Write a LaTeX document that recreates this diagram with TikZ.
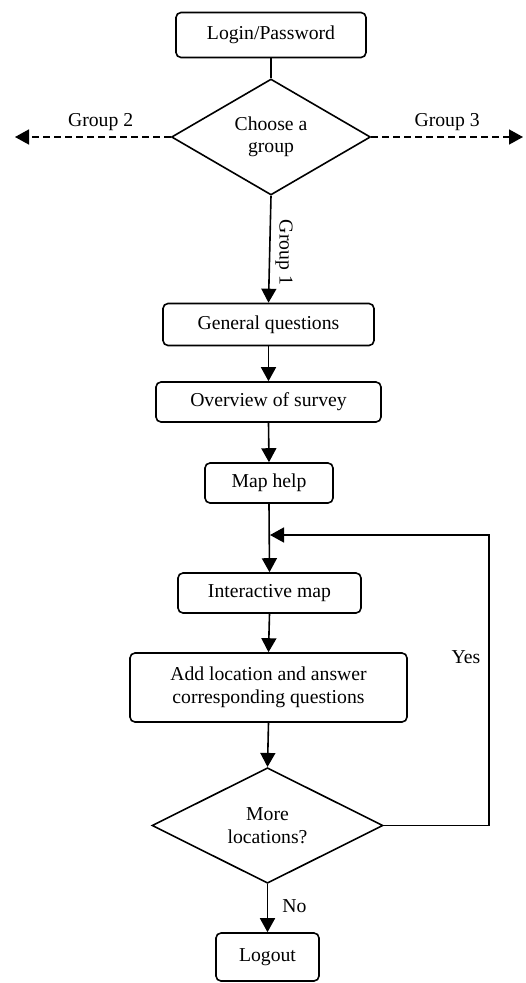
\documentclass[tikz,border=0pt]{standalone}
\usepackage{fontspec}
\setmainfont{Liberation Serif}
\usetikzlibrary{shapes.geometric,arrows.meta}
\tikzset{
  box/.style={draw, line width=1.6pt, rounded corners=5pt, inner sep=0pt, align=center},
  dec/.style={draw, line width=1.6pt, shape=diamond, inner sep=0pt, align=center},
  flow/.style={line width=1.6pt},
  arr/.style={flow, -{Triangle[length=14pt,width=15pt]}},
  darr/.style={line width=1.6pt, dash pattern=on 7pt off 4pt, -{Triangle[length=14pt,width=15pt]}},
  lbl/.style={inner sep=0pt}
}
\begin{document}
\begin{tikzpicture}[x=1pt,y=-1pt,font=\fontsize{19.7}{22.5}\selectfont]
\useasboundingbox (0,0) rectangle (526,983);
\node[box, minimum width=190pt, minimum height=45pt] (login) at (271,35) {Login/Password};
\node[dec, minimum width=199pt, minimum height=116pt] (d1) at (271,137) {Choose a\\group};
\node[box, minimum width=211pt, minimum height=42pt] (gen) at (268.5,324.5) {General questions};
\node[box, minimum width=225pt, minimum height=40pt] (over) at (268.5,402) {Overview of survey};
\node[box, minimum width=128pt, minimum height=40pt] (help) at (269,483) {Map help};
\node[box, minimum width=183pt, minimum height=40pt] (imap) at (269.5,593) {Interactive map};
\node[box, minimum width=277pt, minimum height=69pt] (add) at (268.5,687.5) {Add location and answer\\corresponding questions};
\node[dec, minimum width=231pt, minimum height=115pt] (d2) at (267.5,825.5) {More\\locations?};
\node[box, minimum width=103pt, minimum height=48pt] (logout) at (267.5,957) {Logout};

\coordinate (g2) at (15,137);
\coordinate (g3) at (523,137);
\coordinate (loopend) at (270,535);
\coordinate (loopr) at (489,535);

\draw[flow] (login.south) -- (d1.north);
\draw[darr] (d1.west) -- node[lbl, pos=0.45, above=6pt] {Group 2} (g2);
\draw[darr] (d1.east) -- node[lbl, pos=0.5, above=6pt] {Group 3} (g3);
\draw[arr] (d1.south) -- node[lbl, pos=0.53, rotate=-90, anchor=south, yshift=5pt] {Group 1} (gen.north);
\draw[arr] (gen.south) -- (over.north);
\draw[arr] (over.south) -- (help.north);
\draw[arr] (help.south) -- (imap.north);
\draw[arr] (imap.south) -- (add.north);
\draw[arr] (add.south) -- (d2.north);
\draw[arr] (d2.south) -- node[lbl, pos=0.46, right=14pt] {No} (logout.north);
\draw[arr] (d2.east) -| (loopr) -- (loopend);
\node[lbl] (yes) at (466,657) {Yes};
\end{tikzpicture}
\end{document}
